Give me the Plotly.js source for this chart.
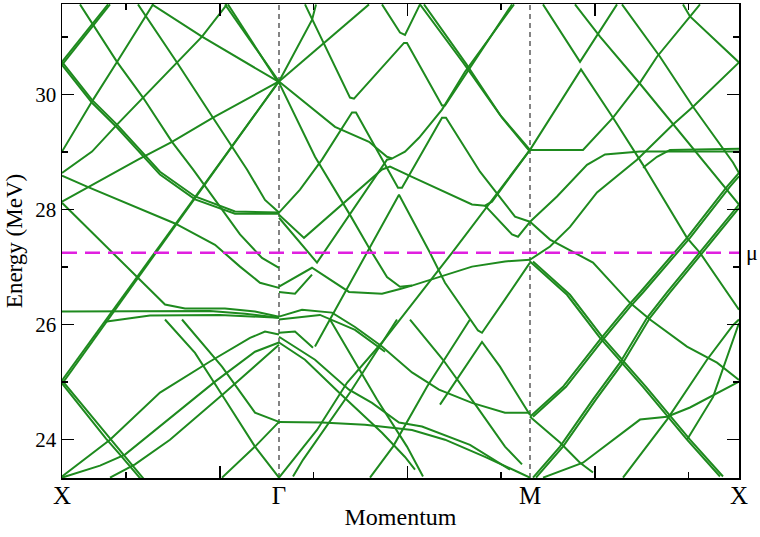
<!DOCTYPE html>
<html><head><meta charset="utf-8">
<script src="https://cdn.plot.ly/plotly-3.0.1.min.js"></script>
<style>
html,body{margin:0;padding:0;background:#fff}
#chart svg text{font-family:"Liberation Serif","DejaVu Serif",serif !important;}
</style>
</head><body>
<div id="chart" style="width:760px;height:537px"></div>
<script>
// k = k-point index along the path X-Γ-M-X ; E in MeV
const kPos = [0, 217, 468, 677];
const kLabels = ['X', 'Γ', 'M', 'X'];
const kMajorTicks = [158, 345.5, 533];
const kMinorTicks = [64, 251.5, 439, 626.5];
const eMajorTicks = [24, 26, 28, 30];
const eMinorTicks = [25, 27, 29, 31];
const muLevel = 27.25;

// X - Γ bands
const bandsXG = [
 [[0,30.57],[46,31.57]],
 [[0,30.52],[48,31.57]],
 [[0,30.57],[30,29.91],[55,29.48],[81,28.99],[98,28.66],[133,28.23],[173,27.97],[217,27.95]],
 [[0,30.52],[30,29.86],[55,29.43],[81,28.94],[98,28.61],[133,28.18],[173,27.93],[217,27.93]],
 [[18,31.57],[55,30.57],[81,29.95],[110,29.18],[131,28.70],[153,28.17],[178,27.57],[200,27.16],[217,26.99]],
 [[0,29.01],[31,29.91],[55,30.57],[83,31.34],[91,31.57]],
 [[76,31.57],[115,30.56],[151,29.60],[185,28.70],[203,28.17],[217,27.95]],
 [[90,31.57],[140,31.01],[216,30.23]],
 [[0,28.64],[30,29.01],[55,29.48],[81,29.95],[115,30.56],[140,31.01],[165,31.57]],
 [[0,28.14],[25,28.38],[76,28.87],[110,29.18],[151,29.60],[217,30.23]],
 [[0,25.03],[217,30.23]],
 [[0,24.97],[215,30.19]],
 [[163,31.57],[217,30.23]],
 [[166,31.57],[217,30.19]],
 [[0,28.59],[25,28.40],[113,27.76],[153,27.39],[178,27.01],[198,26.73],[217,26.64]],
 [[0,28.12],[76,26.82],[103,26.35],[123,26.28],[163,26.28],[193,26.23],[217,26.14]],
 [[0,26.23],[88,26.24],[148,26.24],[183,26.19],[217,26.12]],
 [[43,26.05],[88,26.16],[158,26.17],[217,26.12]],
 [[0,25.03],[46,24.05],[60,23.77],[85,23.25]],
 [[0,24.98],[44,24.02],[58,23.74],[82,23.25]],
 [[0,23.36],[48,24.00],[98,24.82],[148,25.36],[188,25.77],[203,25.88],[217,25.83]],
 [[0,23.34],[38,23.55],[63,23.74],[108,24.38],[153,25.01],[193,25.53],[217,25.69]],
 [[48,23.34],[73,23.57],[108,24.00],[163,24.82],[217,25.65]],
 [[103,26.09],[133,25.51],[163,24.70],[193,23.88],[217,23.34]],
 [[120,26.09],[160,25.27],[193,24.47],[217,24.31]],
 [[160,23.34],[193,23.88],[217,24.31]]
];

// Γ - M bands
const bandsGM = [
 [[217,30.23],[307,31.57]],
 [[217,30.23],[250,31.30],[254,31.57]],
 [[243,31.57],[288,29.95],[292,29.93],[342,30.90],[345,30.90],[380,29.81],[383,29.81],[450,31.57]],
 [[320,31.57],[338,31.08],[343,31.04],[358,31.57]],
 [[217,30.23],[273,29.44],[307,29.18],[325,28.92],[330,28.89],[343,29.01],[357,29.25],[380,29.74],[403,30.40],[452,31.57]],
 [[217,30.21],[253,28.92],[288,27.91],[307,27.34],[325,26.83],[338,26.66],[350,26.68],[377,26.83],[410,27.01],[443,27.10],[468,27.13]],
 [[253,25.62],[268,26.09],[307,27.30],[337,28.26],[368,27.25],[383,26.73],[416,25.90],[420,25.86],[443,26.44],[468,27.08]],
 [[217,27.95],[238,28.35],[260,28.87],[290,29.69],[294,29.69],[336,28.38],[340,28.38],[380,29.60],[384,29.60],[418,28.66],[453,27.88],[468,27.79]],
 [[217,27.91],[242,27.51],[320,28.70],[328,28.75],[350,28.57],[383,28.30],[410,28.09],[423,28.07],[430,28.14],[468,29.04]],
 [[217,27.86],[255,27.08],[325,28.87],[330,28.89]],
 [[217,26.66],[250,26.99],[287,26.57],[320,26.54],[338,26.62],[350,26.68]],
 [[217,26.57],[233,26.54],[250,26.87]],
 [[217,26.14],[240,26.26],[270,26.21],[293,25.96],[320,25.62],[350,25.17],[377,24.87],[410,24.64],[443,24.47],[468,24.47]],
 [[217,26.09],[258,26.17],[293,25.91],[323,25.53]],
 [[217,24.31],[260,24.30],[303,24.26],[350,24.17],[383,24.00],[423,23.70],[457,23.43],[468,23.34]],
 [[217,23.34],[255,24.17],[285,24.99],[320,25.69],[390,27.25],[468,29.04]],
 [[217,25.86],[233,25.88],[251,25.60]],
 [[217,25.69],[243,25.39],[277,24.82],[320,24.12],[343,23.70],[353,23.48]],
 [[217,25.79],[253,25.39],[287,24.87],[310,24.64],[337,24.30],[360,24.23],[408,23.91],[448,23.48]],
 [[268,26.09],[315,24.70],[345,23.88],[361,23.36]],
 [[335,26.09],[288,24.82],[241,23.65],[231,23.36]],
 [[348,26.09],[381,25.39],[415,24.57],[443,23.88],[460,23.57]],
 [[408,26.09],[365,24.92],[331,23.88],[308,23.34]],
 [[358,31.57],[401,30.56],[438,29.65],[468,29.04]],
 [[362,31.57],[404,30.54],[440,29.60],[468,29.01]],
 [[378,24.61],[398,25.13],[420,25.70],[438,25.27],[468,24.43]],
 [[423,28.07],[450,27.57],[456,27.53],[468,27.79]]
];

// M - X bands
const bandsMX = [
 [[468,29.04],[521,29.04],[551,29.60],[578,30.21],[595,30.66],[628,31.36],[638,31.57]],
 [[677,30.56],[628,31.36],[621,31.57]],
 [[468,27.13],[488,27.36],[508,27.70],[535,28.30],[575,28.87],[611,29.48],[631,29.79],[677,30.56]],
 [[468,29.04],[519,30.44],[551,29.60],[581,28.78],[625,27.51],[638,27.25],[677,26.26]],
 [[481,31.57],[518,30.57],[555,31.57]],
 [[513,31.57],[538,31.01],[578,30.19],[638,28.92],[677,28.09]],
 [[560,31.57],[598,30.66],[631,29.79],[671,28.82],[677,28.64]],
 [[468,27.79],[495,28.23],[525,28.78],[543,28.96],[578,29.01],[677,29.01]],
 [[581,28.73],[595,28.92],[608,29.04],[677,29.06]],
 [[468,24.40],[501,24.92],[538,25.74],[565,26.31],[578,26.56],[625,27.51],[665,28.40],[677,28.64]],
 [[471,24.40],[504,24.92],[541,25.74],[568,26.31],[581,26.56],[628,27.51],[668,28.40],[677,28.58]],
 [[677,28.09],[638,27.27],[605,26.56],[585,26.12],[558,25.34],[531,24.70],[498,23.88],[471,23.34]],
 [[677,28.03],[641,27.27],[608,26.56],[588,26.12],[561,25.34],[534,24.70],[501,23.88],[474,23.34]],
 [[468,27.10],[505,26.52],[538,25.77],[581,24.92],[625,24.00],[658,23.36]],
 [[471,27.10],[508,26.52],[541,25.77],[584,24.92],[628,24.00],[661,23.36]],
 [[468,27.79],[488,27.48],[531,27.08],[568,26.38],[588,26.09],[625,25.62],[655,25.34],[677,25.04]],
 [[677,25.01],[628,24.56],[605,24.40],[578,24.35],[521,23.60],[481,23.34]],
 [[625,24.00],[651,24.74],[677,26.03]],
 [[561,23.34],[605,24.35],[645,25.39],[671,25.99],[677,26.09]],
 [[468,24.40],[498,23.95],[518,23.60],[531,23.43]]
];

const serif = 'Liberation Serif';
const bandColor = '#1e8a1e';
const traces = [];
[bandsXG, bandsGM, bandsMX].forEach(group => {
  group.forEach(band => {
    traces.push({
      x: band.map(p => p[0]), y: band.map(p => p[1]),
      mode: 'lines', type: 'scatter', xaxis: 'x', yaxis: 'y',
      line: {color: bandColor, width: 2},
      hoverinfo: 'skip', showlegend: false
    });
  });
});
traces.push({x: kPos, y: kPos.map(() => muLevel), xaxis: 'x2', yaxis: 'y', mode: 'markers',
  marker: {opacity: 0}, hoverinfo: 'skip', showlegend: false});

const yMin = 23.334, yMax = 31.577;
const layout = {
  width: 760, height: 537,
  margin: {l: 62, r: 21, t: 4, b: 59},
  paper_bgcolor: '#fff', plot_bgcolor: '#fff',
  font: {family: serif, color: '#000'},
  xaxis: {
    range: [0, 677], showline: true, linecolor: '#000', linewidth: 1.5, mirror: 'ticks',
    ticks: 'inside', ticklen: 12, tickwidth: 1.5, tickcolor: '#000',
    tickmode: 'array', tickvals: kMajorTicks, showticklabels: false,
    showgrid: false, zeroline: false,
    minor: {tickmode: 'array', tickvals: kMinorTicks, ticks: 'inside', ticklen: 6, tickwidth: 1.5, tickcolor: '#000', showgrid: false}
  },
  xaxis2: {
    overlaying: 'x', anchor: 'y', side: 'bottom', range: [0, 677],
    tickmode: 'array', tickvals: kPos, ticktext: kLabels, ticks: '',
    showline: false, showgrid: false, zeroline: false,
    tickfont: {family: serif, size: 25, color: '#000'},
    title: {text: 'Momentum', font: {family: serif, size: 24, color: '#000'}, standoff: 0}
  },
  yaxis: {
    range: [yMin, yMax], showline: true, linecolor: '#000', linewidth: 1.5, mirror: 'ticks',
    ticks: 'inside', ticklen: 12, tickwidth: 1.5, tickcolor: '#000',
    tickmode: 'array', tickvals: eMajorTicks, ticktext: eMajorTicks.map(String),
    tickfont: {family: serif, size: 21, color: '#000'},
    showgrid: false, zeroline: false,
    minor: {tickmode: 'array', tickvals: eMinorTicks, ticks: 'inside', ticklen: 6, tickwidth: 1.5, tickcolor: '#000', showgrid: false},
    title: {text: 'Energy (MeV)', font: {family: serif, size: 23, color: '#000'}, standoff: 6}
  },
  shapes: [
    {type: 'line', xref: 'x', yref: 'paper', x0: kPos[1], x1: kPos[1], y0: 0, y1: 1, layer: 'below',
     line: {color: '#333', width: 1.2, dash: '5px,4px'}},
    {type: 'line', xref: 'x', yref: 'paper', x0: kPos[2], x1: kPos[2], y0: 0, y1: 1, layer: 'below',
     line: {color: '#333', width: 1.2, dash: '5px,4px'}},
    {type: 'line', xref: 'paper', yref: 'y', x0: 0, x1: 1, y0: muLevel, y1: muLevel,
     line: {color: '#e020e0', width: 2.5, dash: '15px,8px'}}
  ],
  annotations: [
    {text: 'μ', xref: 'paper', yref: 'y', x: 1.008, y: muLevel, xanchor: 'left', yanchor: 'middle',
     showarrow: false, font: {family: serif, size: 22, color: '#000'}}
  ]
};
Plotly.newPlot('chart', traces, layout, {staticPlot: true, displayModeBar: false});
</script>
</body></html>
